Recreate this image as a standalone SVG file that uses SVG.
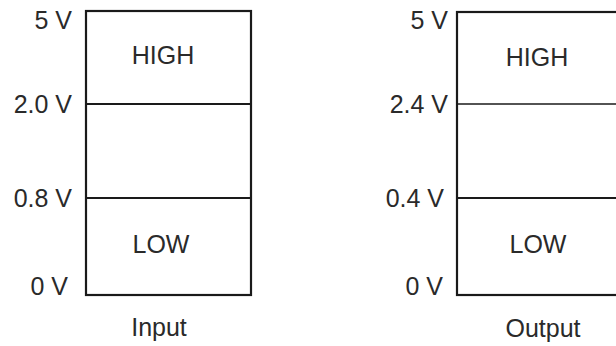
<svg xmlns="http://www.w3.org/2000/svg" width="616" height="346" viewBox="0 0 616 346">
<style>
.box{fill:none;stroke:#1a1a1a;stroke-width:2.2}
.div{stroke:#1a1a1a;stroke-width:2.2}
text{font-family:"Liberation Sans",Arial,sans-serif;font-size:25px;fill:#2a2a2a}
.v{text-anchor:end}
.c{text-anchor:middle}
</style>
<rect width="616" height="346" fill="#ffffff"/>
<g id="input">
<rect class="box" x="86" y="11" width="165" height="284"/>
<line class="div" x1="86" y1="104" x2="251" y2="104"/>
<line class="div" x1="86" y1="198" x2="251" y2="198"/>
<text class="v" x="72" y="29">5 V</text>
<text class="v" x="72" y="113">2.0 V</text>
<text class="v" x="72" y="207">0.8 V</text>
<text class="v" x="68" y="295">0 V</text>
<text class="c" x="163" y="64">HIGH</text>
<text class="c" x="161" y="253">LOW</text>
<text class="c" x="159" y="336">Input</text>
</g>
<g id="output">
<rect class="box" x="457" y="12" width="200" height="283"/>
<line class="div" x1="457" y1="104" x2="616" y2="104" style="stroke-width:1.6"/>
<line class="div" x1="457" y1="198" x2="616" y2="198"/>
<text class="v" x="448" y="29">5 V</text>
<text class="v" x="448" y="113">2.4 V</text>
<text class="v" x="444" y="207">0.4 V</text>
<text class="v" x="443" y="295">0 V</text>
<text class="c" x="537" y="66">HIGH</text>
<text class="c" x="538" y="253">LOW</text>
<text class="c" x="543" y="337">Output</text>
</g>
<g id="connectors"></g>
</svg>
